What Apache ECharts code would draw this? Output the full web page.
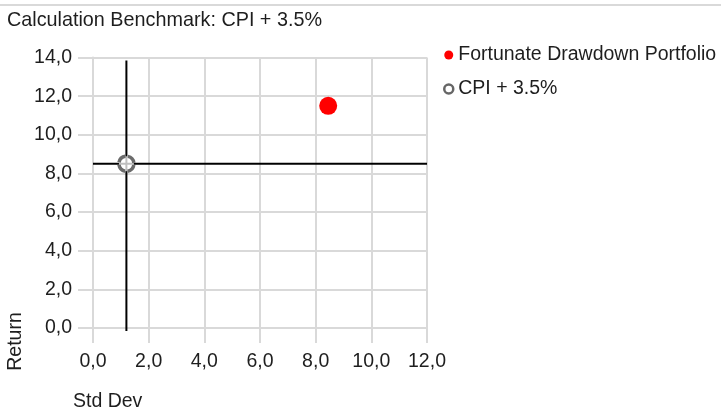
<!DOCTYPE html>
<html>
<head>
<meta charset="utf-8">
<script src="https://cdn.jsdelivr.net/npm/echarts@6/dist/echarts.min.js"></script>
<style>
html,body{margin:0;padding:0;background:#fff;}
#chart{width:721px;height:415px;}
</style>
</head>
<body>
<div id="chart"></div>
<script>
// ---- data ----
const titleText = 'Calculation Benchmark: CPI + 3.5%';
const seriesNames = ['Fortunate Drawdown Portfolio', 'CPI + 3.5%'];
const portfolioPoint = [8.45, 11.5];      // [Std Dev, Return]
const benchmarkPoint = [1.2, 8.5];        // [Std Dev, Return]
const benchmarkVLine = [[1.2, 13.85], [1.2, -0.15]];
const benchmarkHLine = [[0, 8.5], [12, 8.5]];
const xAxisName = 'Std Dev';
const yAxisName = 'Return';
const xRange = [0, 12, 2];   // min, max, interval
const yRange = [0, 14, 2];

const FONT = '"Liberation Sans", Arial, sans-serif';
const TXT = '#1e1e1e';
const GRID = '#d9d9d9';
const fmt = v => v.toFixed(1).replace('.', ',');

const chart = echarts.init(document.getElementById('chart'), null, {renderer: 'canvas'});
const axisCommon = {
  type: 'value',
  axisLine: {show: true, lineStyle: {color: GRID, width: 2}},
  axisTick: {show: true, length: 15, lineStyle: {color: GRID, width: 2}},
  splitLine: {show: true, lineStyle: {color: GRID, width: 2}},
};
chart.setOption({
  animation: false,
  textStyle: {fontFamily: FONT},
  title: {
    text: titleText, left: 7, top: 11, padding: 0,
    textStyle: {fontFamily: FONT, fontSize: 19.8, fontWeight: 'normal', color: TXT}
  },
  legend: {
    orient: 'vertical', left: 443, top: 45, padding: 0,
    itemWidth: 9, itemHeight: 9, itemGap: 14, selectedMode: false,
    textStyle: {fontFamily: FONT, fontSize: 19.5, color: TXT},
    data: [
      {name: seriesNames[0], icon: 'circle'},
      {name: seriesNames[1], icon: 'circle',
       itemStyle: {color: '#fff', borderColor: '#666', borderWidth: 2.5, borderType: 'solid'}}
    ]
  },
  grid: {left: 93, top: 57.5, right: 294, bottom: 87, containLabel: false},
  xAxis: Object.assign({}, axisCommon, {
    min: xRange[0], max: xRange[1], interval: xRange[2],
    axisLabel: {formatter: fmt, margin: 24, fontSize: 19.5, color: TXT, fontFamily: FONT}
  }),
  yAxis: Object.assign({}, axisCommon, {
    min: yRange[0], max: yRange[1], interval: yRange[2],
    axisLabel: {formatter: fmt, margin: 21, fontSize: 19.5, color: TXT, fontFamily: FONT,
                padding: [6, 0, 0, 0]}
  }),
  graphic: [
    {type: 'line', shape: {x1: 0, y1: 5, x2: 721, y2: 5}, style: {stroke: GRID, lineWidth: 2}, silent: true},
    {type: 'text', left: 73, top: 392, style: {text: xAxisName, font: '19.5px ' + FONT, fill: TXT}},
    {type: 'text', x: 16, y: 341.5, rotation: Math.PI / 2,
     style: {text: yAxisName, font: '19.5px ' + FONT, fill: TXT, align: 'center', verticalAlign: 'middle'}}
  ],
  series: [
    {type: 'line', data: benchmarkVLine, symbol: 'none', clip: false, silent: true,
     lineStyle: {color: '#000', width: 2}, z: 2},
    {type: 'line', data: benchmarkHLine, symbol: 'none', clip: false, silent: true,
     lineStyle: {color: '#000', width: 2}, z: 2},
    {name: seriesNames[0], type: 'scatter', data: [portfolioPoint], symbol: 'circle', symbolSize: 18,
     itemStyle: {color: '#ff0000', opacity: 1}, z: 3},
    {name: seriesNames[1], type: 'scatter', data: [benchmarkPoint], symbol: 'circle', symbolSize: 15,
     itemStyle: {color: 'rgba(255,255,255,0.75)', borderColor: '#6b6b6b', borderWidth: 3.5,
                 borderType: [9.28, 2.5], borderDashOffset: 10.53, opacity: 1}, z: 4}
  ]
});
</script>
</body>
</html>
